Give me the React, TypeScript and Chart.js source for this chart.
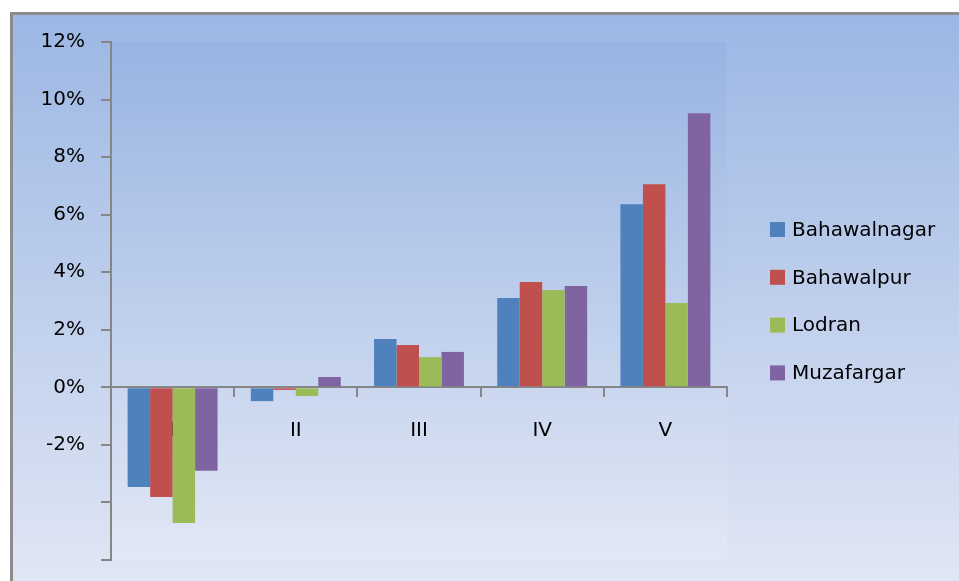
import React, { useEffect, useRef } from "react";
import { Chart, registerables } from "chart.js";

Chart.register(...registerables);

// Quarterly change by district
const categories = ["I", "II", "III", "IV", "V"];
const bahawalnagar = [-3.46, -0.48, 1.68, 3.1, 6.36];
const bahawalpur = [-3.81, -0.09, 1.47, 3.66, 7.06];
const lodran = [-4.71, -0.3, 1.05, 3.38, 2.93];
const muzafargar = [-2.9, 0.36, 1.23, 3.52, 9.52];

const seriesNames = ["Bahawalnagar", "Bahawalpur", "Lodran", "Muzafargar"];
const seriesColors = ["#4f81bd", "#c0504d", "#9bbb59", "#8064a2"];

const FONT = "'DejaVu Sans', sans-serif";
const AXIS_GRAY = "#868686";

// Framed gradient backdrop and the plot-area fill
const backdrop = {
  id: "backdrop",
  beforeDraw(chart: any) {
    const { ctx, width, height, chartArea } = chart;
    ctx.save();
    ctx.fillStyle = "#ffffff";
    ctx.fillRect(0, 0, width, height);

    const frame = ctx.createLinearGradient(0, 14, 0, height);
    frame.addColorStop(0, "rgb(156,183,228)");
    frame.addColorStop(1, "rgb(224,230,244)");
    ctx.fillStyle = frame;
    ctx.fillRect(11, 13, width + 20, height + 20);

    const plot = ctx.createLinearGradient(0, chartArea.top, 0, chartArea.bottom);
    plot.addColorStop(0, "rgb(152,180,226)");
    plot.addColorStop(1, "rgb(226,232,245)");
    ctx.fillStyle = plot;
    ctx.fillRect(chartArea.left, chartArea.top, chartArea.right - chartArea.left, chartArea.bottom - chartArea.top);

    ctx.fillStyle = "#8c8c8c";
    ctx.fillRect(10, 12, 3, height + 20);
    ctx.fillRect(10, 12, width + 20, 3);
    ctx.restore();
  },
};

// Legend to the right of the plot
const sideLegend = {
  id: "sideLegend",
  afterDraw(chart: any) {
    const { ctx } = chart;
    ctx.save();
    ctx.font = `20px ${FONT}`;
    ctx.textBaseline = "middle";
    ctx.textAlign = "left";
    chart.data.datasets.forEach((ds: any, i: number) => {
      const cy = 229.5 + i * 47.8;
      ctx.fillStyle = ds.backgroundColor;
      ctx.fillRect(770, cy - 7.5, 15, 15);
      ctx.fillStyle = "#000000";
      ctx.fillText(ds.label, 792, cy + 1);
    });
    ctx.restore();
  },
};

export default function App() {
  const canvasRef = useRef<HTMLCanvasElement | null>(null);

  useEffect(() => {
    const canvas = canvasRef.current;
    if (!canvas) return;
    const seriesValues = [bahawalnagar, bahawalpur, lodran, muzafargar];
    const chart = new Chart(canvas, {
      type: "bar",
      data: {
        labels: categories,
        datasets: seriesValues.map((values, i) => ({
          label: seriesNames[i],
          data: values,
          backgroundColor: seriesColors[i],
          borderWidth: 0,
          categoryPercentage: 0.73,
          barPercentage: 1,
        })),
      },
      options: {
        responsive: true,
        maintainAspectRatio: false,
        animation: false,
        devicePixelRatio: 1,
        layout: { padding: { left: 0, top: 42, right: 232, bottom: 21 } },
        plugins: {
          legend: { display: false },
          tooltip: { enabled: false },
          title: { display: false },
        },
        scales: {
          x: {
            position: { y: 0 } as any,
            offset: true,
            z: 1,
            grid: {
              offset: true,
              drawOnChartArea: false,
              drawTicks: true,
              tickLength: 9,
              color: AXIS_GRAY,
              lineWidth: 2,
            },
            border: { display: true, color: AXIS_GRAY, width: 2 },
            ticks: { font: { family: FONT, size: 20 }, color: "#000000", padding: 22 },
            afterFit: (s: any) => {
              s.height = 0;
              s.paddingLeft = 0;
              s.paddingRight = 0;
            },
          },
          y: {
            min: -6,
            max: 12,
            grid: {
              drawOnChartArea: false,
              drawTicks: true,
              tickLength: 10,
              color: AXIS_GRAY,
              lineWidth: 2,
            },
            border: { display: true, color: AXIS_GRAY, width: 2 },
            ticks: {
              stepSize: 2,
              padding: 16,
              color: "#000000",
              font: { family: FONT, size: 20 },
              callback: (v: any) => (Number(v) < -2 ? "" : `${v}%`),
            },
            afterFit: (s: any) => {
              s.width = 111;
              s.paddingTop = 0;
              s.paddingBottom = 0;
            },
          },
        },
      },
      plugins: [backdrop, sideLegend],
    });
    return () => chart.destroy();
  }, []);

  return (
    <div style={{ position: "fixed", left: 0, top: 0, width: 959, height: 581, overflow: "hidden" }}>
      <canvas ref={canvasRef} />
    </div>
  );
}
